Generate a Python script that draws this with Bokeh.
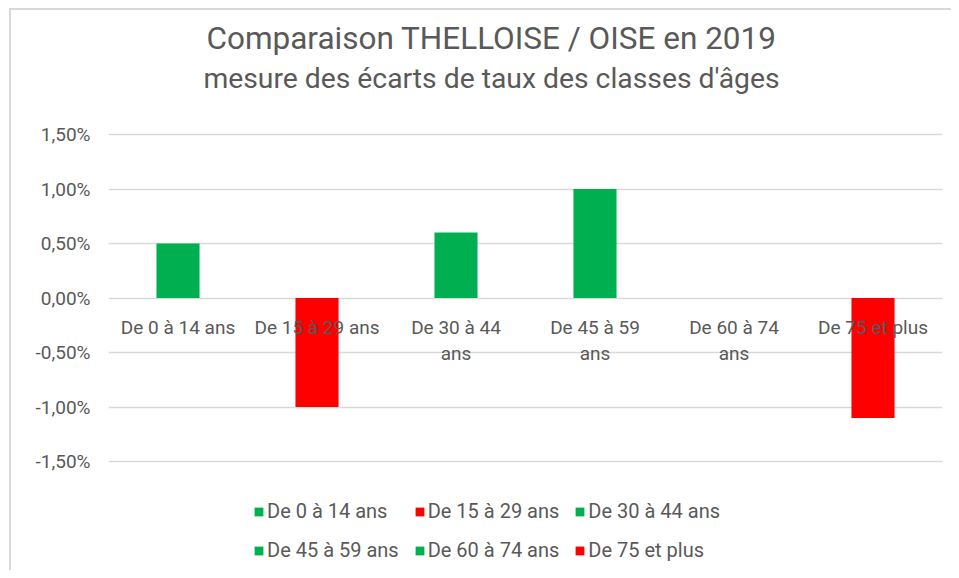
from bokeh.plotting import figure
from bokeh.models import (ColumnDataSource, FactorRange, FixedTicker, CustomJSTickFormatter,
                          Legend, LegendItem, Label, Range1d)
from bokeh.core.properties import value
from bokeh.embed import file_html
from bokeh.resources import INLINE

# ---- data ----
categories = ["De 0 à 14 ans", "De 15 à 29 ans", "De 30 à 44 ans",
              "De 45 à 59 ans", "De 60 à 74 ans", "De 75 et plus"]
axis_labels = ["De 0 à 14 ans", "De 15 à 29 ans", "De 30 à 44\nans",
               "De 45 à 59\nans", "De 60 à 74\nans", "De 75 et plus"]
ecarts_pct = [0.50, -1.00, 0.60, 1.00, 0.00, -1.10]
y_ticks = [-1.5, -1.0, -0.5, 0.0, 0.5, 1.0, 1.5]

title_main = "Comparaison THELLOISE / OISE en 2019"
title_sub = "mesure des écarts de taux des classes d'âges"

GREEN = "#00B050"
RED = "#FF0000"
TXT = "#595959"
FONT = "Roboto"

# layout: frame covers full canvas height; y=+1.5 at 134px from top, -1.5 at 461px
W, H = 951, 570
PX_PER_UNIT = 109.0
y_top = 1.5 + 134 / PX_PER_UNIT
y_bot = y_top - H / PX_PER_UNIT

colors = [GREEN if v >= 0 else RED for v in ecarts_pct]
source = ColumnDataSource(dict(cat=categories, val=ecarts_pct, color=colors,
                               lab=axis_labels, zero=[0.0] * len(categories)))

p = figure(width=W, height=H, x_range=FactorRange(*categories),
           y_range=Range1d(y_bot, y_top), output_backend="svg", toolbar_location=None,
           min_border_left=108, min_border_right=9, min_border_top=0, min_border_bottom=0)
p.outline_line_color = None
p.background_fill_color = None
p.border_fill_color = None
p.styles = {
    "background-color": "white",
    "background-image": "linear-gradient(#D9D9D9, #D9D9D9), linear-gradient(#D9D9D9, #D9D9D9)",
    "background-size": "100% 2px, 2px 100%",
    "background-position": "9px 8px, 9px 8px",
    "background-repeat": "no-repeat",
}

bars = p.vbar(x="cat", top="val", bottom=0, width=0.31, fill_color="color",
              line_color=None, source=source)

# category labels at the zero line
p.text(x="cat", y="zero", text="lab", source=source, text_align="center",
       text_baseline="top", y_offset=18, text_font=value(FONT), text_font_size="19px",
       text_color=TXT, text_line_height=1.12)

p.xaxis.visible = False
p.xgrid.grid_line_color = None
p.ygrid.grid_line_color = "#D9D9D9"
p.ygrid.grid_line_width = 1.5

yax = p.yaxis[0]
yax.ticker = FixedTicker(ticks=y_ticks)
yax.formatter = CustomJSTickFormatter(code="""
  var t = Math.abs(tick) < 1e-9 ? 0 : tick;
  return t.toFixed(2).replace('.', ',') + '%';
""")
yax.axis_line_color = None
yax.major_tick_line_color = None
yax.minor_tick_line_color = None
yax.major_tick_out = 0
yax.major_tick_in = 0
yax.major_label_standoff = 18
yax.major_label_text_font = FONT
yax.major_label_text_font_size = "19px"
yax.major_label_text_color = TXT

# titles
p.add_layout(Label(x=3, y=y_top - 38 / PX_PER_UNIT, x_offset=-34, text=title_main,
                   text_align="center", text_baseline="middle", text_font=FONT,
                   text_font_size="31.5px", text_color=TXT))
p.add_layout(Label(x=3, y=y_top - 78 / PX_PER_UNIT, x_offset=-34, text=title_sub,
                   text_align="center", text_baseline="middle", text_font=FONT,
                   text_font_size="28.3px", text_color=TXT))

# legend
items = [LegendItem(label=c, renderers=[bars], index=i) for i, c in enumerate(categories)]
legend = Legend(items=items, ncols=3, orientation="horizontal", location=(145, 8),
                label_text_font=FONT, label_text_font_size="20px", label_text_color=TXT,
                glyph_width=11, glyph_height=11, label_standoff=3, spacing=15,
                label_height=22, padding=0, margin=0, border_line_color=None,
                background_fill_alpha=0)
p.add_layout(legend, "center")

open("out.html", "w").write(file_html(p, INLINE))
